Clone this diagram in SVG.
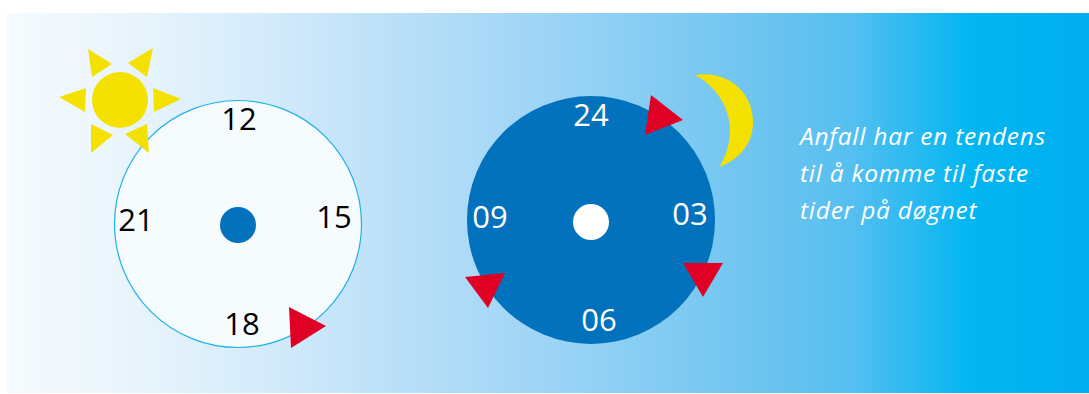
<svg xmlns="http://www.w3.org/2000/svg" width="1089" height="394" viewBox="0 0 1089 394">
<style>
.y{fill:#f5e100}.r{fill:#e10025}
.n{font-family:"Open Sans","Noto Sans",sans-serif;font-size:31px;text-anchor:middle}
.b{fill:#000}.w{fill:#fff}
.c{font-family:"Open Sans","Noto Sans",sans-serif;font-size:24.5px;font-style:italic;fill:#fff;letter-spacing:.75px}
</style>
<defs><linearGradient id="bg" gradientUnits="userSpaceOnUse" x1="6" y1="0" x2="1089" y2="0">
<stop offset="0" stop-color="#f6fbfe"/>
<stop offset="0.12" stop-color="#e8f4fc"/>
<stop offset="0.24" stop-color="#d4ebfb"/>
<stop offset="0.36" stop-color="#bae0f8"/>
<stop offset="0.5" stop-color="#9dd4f6"/>
<stop offset="0.7" stop-color="#6cc4f0"/>
<stop offset="0.78" stop-color="#56bff0"/>
<stop offset="0.89" stop-color="#02b6f1"/>
<stop offset="1" stop-color="#00aeef"/>
</linearGradient></defs>
<rect x="6" y="13" width="1083" height="380" fill="url(#bg)"/>
<g id="day-clock">
<circle cx="238" cy="224" r="123.5" fill="#f6fbfe" stroke="#20b0ea" stroke-width="1.2"/>
<circle cx="238" cy="225" r="18" fill="#0272bc"/>
<text class="n b" x="239" y="130">12</text>
<text class="n b" x="334" y="228">15</text>
<text class="n b" x="242" y="335">18</text>
<text class="n b" x="136" y="231">21</text>
<polygon class="r" points="289,307 326,326 291,348"/>
</g>
<g id="sun">
<polygon class="y" points="88,49 112,64 92,77"/>
<polygon class="y" points="153,48 128,63 147,77"/>
<polygon class="y" points="59,97 86,88 85,112"/>
<polygon class="y" points="153,88 181,99 154,112"/>
<polygon class="y" points="91,124 113,135 91,153"/>
<polygon class="y" points="125,134 147,124 149,153"/>
<circle class="y" cx="120" cy="100" r="28"/>
</g>
<g id="night-clock">
<circle cx="591" cy="220" r="124" fill="#0272bc"/>
<circle cx="591" cy="222" r="18" fill="#fff"/>
<text class="n w" x="591" y="126">24</text>
<text class="n w" x="690" y="225">03</text>
<text class="n w" x="599" y="331">06</text>
<text class="n w" x="490" y="228">09</text>
<polygon class="r" points="651,95 683,120 645,135"/>
<polygon class="r" points="683,263 723,263 703,297"/>
<polygon class="r" points="465,277 505,273 488,308"/>
</g>
<g id="moon">
<path class="y" d="M695,75 C725,70 753,90 753,122 C753,145 738,160 719,167 C727,155 730,142 730,130 C730,108 716,86 695,75 Z"/>
</g>
<g id="caption">
<text class="c" x="800" y="145">Anfall har en tendens</text>
<text class="c" x="800" y="182">til å komme til faste</text>
<text class="c" x="800" y="219">tider på døgnet</text>
</g>
</svg>
